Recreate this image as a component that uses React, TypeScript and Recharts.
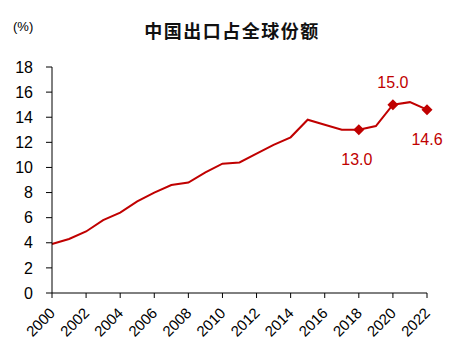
import { LineChart, Line, XAxis, YAxis } from 'recharts';

const years = [
  2000, 2001, 2002, 2003, 2004, 2005, 2006, 2007, 2008, 2009, 2010, 2011,
  2012, 2013, 2014, 2015, 2016, 2017, 2018, 2019, 2020, 2021, 2022,
];
const exportShare = [
  3.9, 4.3, 4.9, 5.8, 6.4, 7.3, 8.0, 8.6, 8.8, 9.6, 10.3, 10.4,
  11.1, 11.8, 12.4, 13.8, 13.4, 13.0, 13.0, 13.3, 15.0, 15.2, 14.6,
];
const highlightYears = [2018, 2020, 2022];
const xTicks = [2000, 2002, 2004, 2006, 2008, 2010, 2012, 2014, 2016, 2018, 2020, 2022];
const yTicks = [0, 2, 4, 6, 8, 10, 12, 14, 16, 18];

const RED = '#C00000';
const FONT = '"Liberation Sans", Arial, sans-serif';

const data = years.map((year, i) => ({ year, share: exportShare[i] }));

function XTick({ x, y, payload }: any) {
  const tx = x + 4;
  const ty = y + 14;
  return (
    <text
      x={tx}
      y={ty}
      transform={`rotate(-45, ${tx}, ${ty})`}
      textAnchor="end"
      fontSize={15}
      fontFamily={FONT}
      fill="#000"
    >
      {payload.value}
    </text>
  );
}

function HighlightDot({ cx, cy, payload }: any) {
  if (!highlightYears.includes(payload.year)) {
    return <g key={`d-${payload.year}`} />;
  }
  const r = 5.5;
  // the peak label sits above the line, the others below
  const above = payload.year === 2020;
  return (
    <g key={`d-${payload.year}`}>
      <path
        d={`M${cx},${cy - r} L${cx + r},${cy} L${cx},${cy + r} L${cx - r},${cy} Z`}
        fill={RED}
      />
      <text
        x={payload.year === 2018 ? cx - 2 : cx}
        y={above ? cy - 17 : cy + 35}
        textAnchor="middle"
        fontSize={16}
        fontFamily={FONT}
        fill={RED}
      >
        {payload.share.toFixed(1)}
      </text>
    </g>
  );
}

export default function App() {
  return (
    <div style={{ position: 'absolute', left: 0, top: 0, width: 464, height: 357, background: '#fff' }}>
      <div
        style={{
          position: 'absolute',
          left: 13,
          top: 19,
          fontSize: 13,
          fontFamily: FONT,
          color: '#000',
        }}
      >
        (%)
      </div>
      <div
        style={{
          position: 'absolute',
          left: 0,
          width: 464,
          top: 18,
          textAlign: 'center',
          fontSize: 18,
          fontWeight: 'bold',
          letterSpacing: 1.5,
          fontFamily: '"Noto Sans CJK SC", sans-serif',
          color: '#111',
          lineHeight: '24px',
        }}
      >
        中国出口占全球份额
      </div>
      <LineChart width={464} height={357} data={data} margin={{ top: 67, right: 37, left: 0, bottom: 0 }}>
        <XAxis
          dataKey="year"
          type="number"
          domain={[2000, 2022]}
          ticks={xTicks}
          interval={0}
          height={64}
          tickSize={5}
          stroke="#000"
          tick={<XTick />}
        />
        <YAxis
          domain={[0, 18]}
          ticks={yTicks}
          interval={0}
          width={52}
          tickSize={6}
          tickMargin={13}
          stroke="#000"
          tick={{ fontSize: 16, fontFamily: FONT, fill: '#000' }}
        />
        <Line
          type="linear"
          dataKey="share"
          stroke={RED}
          strokeWidth={2}
          dot={HighlightDot}
          activeDot={false}
          isAnimationActive={false}
        />
      </LineChart>
    </div>
  );
}
